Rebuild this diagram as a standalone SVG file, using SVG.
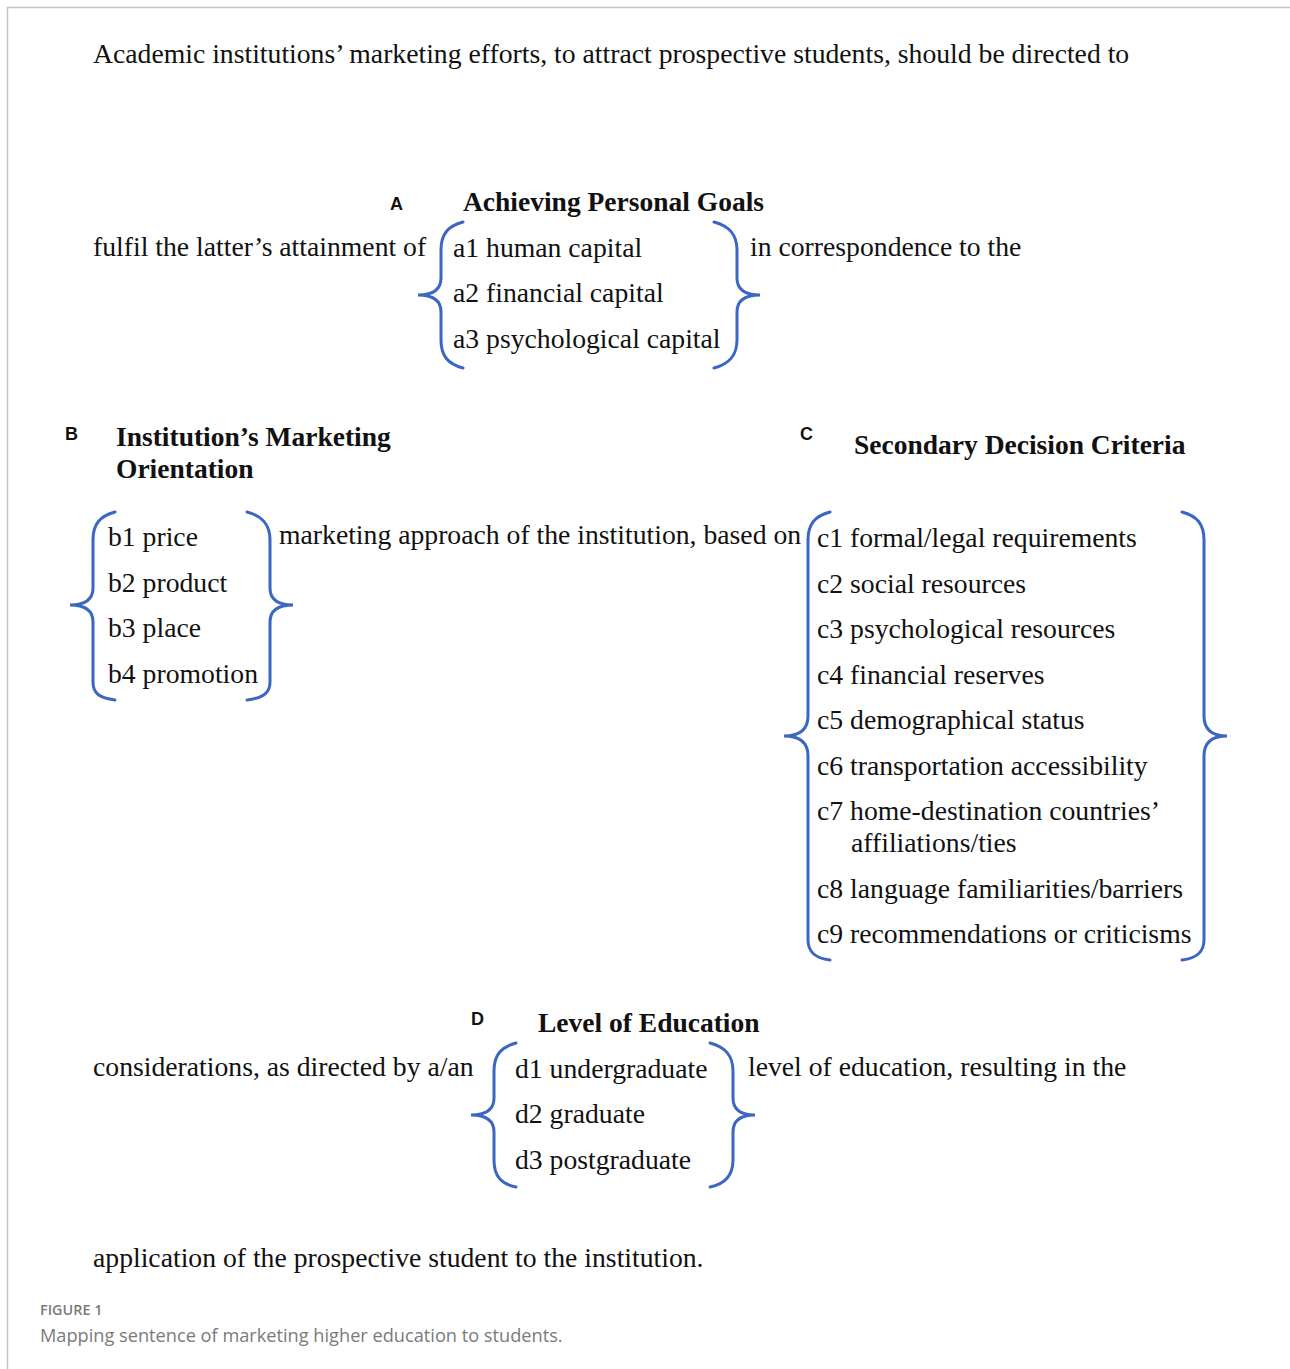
<svg xmlns="http://www.w3.org/2000/svg" width="1290" height="1369" viewBox="0 0 1290 1369">
<style>
.t{font-family:"Liberation Serif","Times New Roman",serif;font-size:27.7px;fill:#111}
.h{font-family:"Liberation Serif","Times New Roman",serif;font-size:27.5px;font-weight:bold;fill:#111}
.l{font-family:"Liberation Sans",Arial,sans-serif;font-size:18px;font-weight:bold;fill:#111}
.br{fill:none;stroke:#3b66c4;stroke-width:3;stroke-linecap:round}
.cap1{font-family:"Open Sans","Noto Sans",sans-serif;font-size:14.4px;font-weight:600;fill:#7a7a7a}
.cap2{font-family:"Open Sans","Noto Sans",sans-serif;font-size:18.2px;fill:#7a7a7a}
</style>
<rect width="1290" height="1369" fill="#fff"/>
<path d="M7.5,1369 V7.5 H1290" fill="none" stroke="#c4c4c4" stroke-width="1.5"/>

<text class="t" x="93" y="63">Academic institutions’ marketing efforts, to attract prospective students, should be directed to</text>

<g id="facetA">
<text class="l" x="390" y="210">A</text>
<text class="h" x="463" y="211">Achieving Personal Goals</text>
<text class="t" x="453" y="257">a1 human capital</text>
<text class="t" x="453" y="302">a2 financial capital</text>
<text class="t" x="453" y="348">a3 psychological capital</text>
</g>
<text class="t" x="93" y="256">fulfil the latter’s attainment of</text>
<text class="t" x="750" y="256">in correspondence to the</text>

<g id="facetB">
<text class="l" x="65" y="440">B</text>
<text class="h" x="116" y="446">Institution’s Marketing</text>
<text class="h" x="116" y="478">Orientation</text>
<text class="t" x="108" y="546">b1 price</text>
<text class="t" x="108" y="592">b2 product</text>
<text class="t" x="108" y="637">b3 place</text>
<text class="t" x="108" y="683">b4 promotion</text>
</g>
<text class="t" x="279" y="544">marketing approach of the institution, based on</text>

<g id="facetC">
<text class="l" x="800" y="440">C</text>
<text class="h" x="854" y="454">Secondary Decision Criteria</text>
<text class="t" x="817" y="547">c1 formal/legal requirements</text>
<text class="t" x="817" y="593">c2 social resources</text>
<text class="t" x="817" y="638">c3 psychological resources</text>
<text class="t" x="817" y="684">c4 financial reserves</text>
<text class="t" x="817" y="729">c5 demographical status</text>
<text class="t" x="817" y="775">c6 transportation accessibility</text>
<text class="t" x="817" y="820">c7 home-destination countries’</text>
<text class="t" x="851" y="852">affiliations/ties</text>
<text class="t" x="817" y="898">c8 language familiarities/barriers</text>
<text class="t" x="817" y="943">c9 recommendations or criticisms</text>
</g>

<g id="facetD">
<text class="l" x="471" y="1025">D</text>
<text class="h" x="538" y="1032">Level of Education</text>
<text class="t" x="515" y="1078">d1 undergraduate</text>
<text class="t" x="515" y="1123">d2 graduate</text>
<text class="t" x="515" y="1169">d3 postgraduate</text>
</g>
<text class="t" x="93" y="1076">considerations, as directed by a/an</text>
<text class="t" x="748" y="1076">level of education, resulting in the</text>

<text class="t" x="93" y="1267">application of the prospective student to the institution.</text>

<g id="braces">
<path class="br" d="M463,222 C448,226 441,234 441,250 L441,278 C441,290 432,295 418,295 C432,295 441,300 441,312 L441,340 C441,356 448,364 463,368"/>
<path class="br" d="M714,222 C729,226 737,234 737,250 L737,278 C737,290 746,295 760,295 C746,295 737,300 737,312 L737,340 C737,356 729,364 714,368"/>
<path class="br" d="M115,512 C100,516 93,524 93,540 L93,588 C93,600 84,605 70,605 C84,605 93,610 93,622 L93,682 C93,694 100,698 115,700"/>
<path class="br" d="M247,512 C262,516 270,524 270,540 L270,588 C270,600 279,605 293,605 C279,605 270,610 270,622 L270,682 C270,694 262,698 247,700"/>
<path class="br" d="M830,512 C815,516 808,524 808,540 L808,716 C808,730 799,736 784,736 C799,736 808,742 808,756 L808,940 C808,952 815,958 830,960"/>
<path class="br" d="M1182,512 C1197,516 1204,524 1204,540 L1204,716 C1204,730 1213,736 1227,736 C1213,736 1204,742 1204,756 L1204,940 C1204,952 1197,958 1182,960"/>
<path class="br" d="M516,1043 C501,1047 494,1055 494,1071 L494,1098 C494,1110 485,1115 471,1115 C485,1115 494,1120 494,1132 L494,1160 C494,1176 501,1184 516,1187"/>
<path class="br" d="M710,1043 C725,1047 733,1055 733,1071 L733,1098 C733,1110 741,1115 755,1115 C741,1115 733,1120 733,1132 L733,1160 C733,1176 725,1184 710,1187"/>
</g>

<text class="cap1" x="40" y="1315">FIGURE 1</text>
<text class="cap2" x="40" y="1342">Mapping sentence of marketing higher education to students.</text>
</svg>
